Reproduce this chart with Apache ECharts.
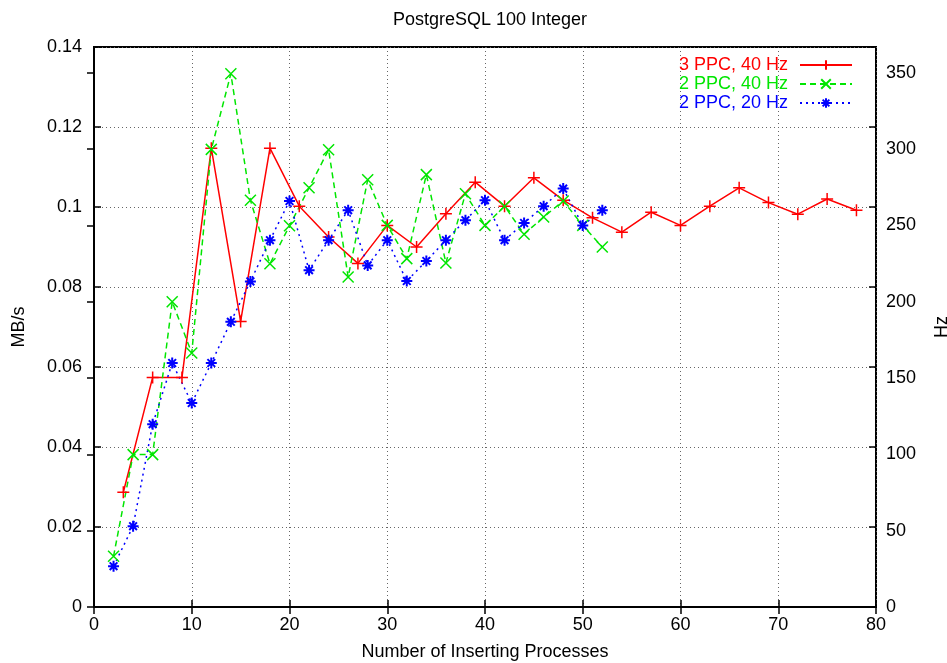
<!DOCTYPE html>
<html lang="en">
<head>
    <meta charset="UTF-8">
    <title>PostgreSQL 100 Integer</title>
    <script src="https://cdn.jsdelivr.net/npm/echarts@6/dist/echarts.min.js"></script>
    <style>
        html, body { margin: 0; padding: 0; background: #fff; }
        #main { width: 947px; height: 663px; }
    </style>
</head>
<body>
    <div id="main"></div>
    <script type="text/javascript">
        // 3 PPC, 40 Hz
        var redX = [3, 6, 9, 12, 15, 18, 21, 24, 27, 30, 33, 36, 39, 42, 45, 48, 51, 54, 57, 60, 63, 66, 69, 72, 75, 78];
        var redY = [0.0287, 0.0574, 0.0574, 0.1147, 0.0714, 0.1147, 0.1002, 0.0925, 0.0859, 0.0954, 0.0900, 0.0983, 0.1062,
            0.1002, 0.1073, 0.1017, 0.0973, 0.0937, 0.0987, 0.0954, 0.1002, 0.1048, 0.1011, 0.0982, 0.1020, 0.0992];
        // 2 PPC, 40 Hz
        var greenX = [2, 4, 6, 8, 10, 12, 14, 16, 18, 20, 22, 24, 26, 28, 30, 32, 34, 36, 38, 40, 42, 44, 46, 48, 50, 52];
        var greenY = [0.0127, 0.0381, 0.0381, 0.0763, 0.0635, 0.1144, 0.1333, 0.1017, 0.0858, 0.0953, 0.1048, 0.1143, 0.0825,
            0.1068, 0.0954, 0.0871, 0.1081, 0.0860, 0.1033, 0.0954, 0.1002, 0.0932, 0.0975, 0.1015, 0.0954, 0.0900];
        // 2 PPC, 20 Hz
        var blueX = [2, 4, 6, 8, 10, 12, 14, 16, 18, 20, 22, 24, 26, 28, 30, 32, 34, 36, 38, 40, 42, 44, 46, 48, 50, 52];
        var blueY = [0.0102, 0.0202, 0.0457, 0.0610, 0.0510, 0.0610, 0.0713, 0.0814, 0.0917, 0.1015, 0.0842, 0.0917, 0.0992,
            0.0854, 0.0917, 0.0815, 0.0865, 0.0917, 0.0967, 0.1017, 0.0917, 0.0960, 0.1002, 0.1046, 0.0954, 0.0992];

        var seriesNames = ['3 PPC, 40 Hz', '2 PPC, 40 Hz', '2 PPC, 20 Hz'];
        var seriesColors = ['#ff0000', '#00e600', '#0000ff'];

        function pairs(xs, ys) {
            return xs.map(function (x, i) { return [x, ys[i]]; });
        }

        var FONT = '"Liberation Sans", Arial, sans-serif';
        var gridLine = { show: true, lineStyle: { color: '#666', type: [1, 3], width: 1 } };
        var tick = { show: true, inside: true, length: 7, lineStyle: { color: '#000', width: 1.5 } };
        var label = { color: '#000', fontSize: 18, fontFamily: FONT };

        var symPlus = 'path://M0,5L10,5M5,0L5,10';
        var symCross = 'path://M0,0L10,10M10,0L0,10';
        var symStar = 'path://M0,5L10,5M5,0L5,10M1.5,1.5L8.5,8.5M8.5,1.5L1.5,8.5';

        var myChart = echarts.init(document.getElementById('main'));
        var option = {
            animation: false,
            backgroundColor: '#fff',
            textStyle: { fontFamily: FONT },
            title: {
                text: 'PostgreSQL 100 Integer',
                left: 485,
                textAlign: 'center',
                top: 6,
                textStyle: { fontSize: 18, fontWeight: 'normal', color: '#000', fontFamily: FONT }
            },
            legend: {
                orient: 'vertical',
                right: 94,
                top: 56,
                padding: 0,
                align: 'right',
                itemWidth: 52,
                itemHeight: 12,
                itemGap: 1,
                textStyle: { fontSize: 18, fontFamily: FONT, lineHeight: 18, padding: [0, 7, 0, 0] },
                data: seriesNames.map(function (n, i) {
                    return { name: n, textStyle: { color: seriesColors[i] } };
                })
            },
            grid: {
                left: 94, right: 71, top: 47, bottom: 56,
                outerBoundsMode: 'none',
                containLabel: false,
                show: true, borderColor: '#000', borderWidth: 2
            },
            xAxis: [
                {
                    type: 'value', position: 'bottom', min: 0, max: 80, interval: 10,
                    name: 'Number of Inserting Processes', nameLocation: 'middle', nameGap: 36,
                    nameTextStyle: label,
                    axisLine: { show: true, lineStyle: { color: '#000', width: 2 } },
                    axisTick: tick,
                    axisLabel: Object.assign({ margin: 9 }, label),
                    splitLine: gridLine
                },
                {
                    type: 'value', position: 'top', min: 0, max: 80, interval: 10,
                    axisLine: { show: false }, axisTick: tick,
                    axisLabel: { show: false }, splitLine: { show: false }
                }
            ],
            yAxis: [
                {
                    type: 'value', position: 'left', min: 0, max: 0.14, interval: 0.02,
                    name: 'MB/s', nameLocation: 'middle', nameGap: 66, nameRotate: 90,
                    nameTextStyle: label,
                    axisLine: { show: true, lineStyle: { color: '#000', width: 2 } },
                    axisTick: tick,
                    axisLabel: Object.assign({ margin: 12 }, label),
                    splitLine: gridLine
                },
                {
                    type: 'value', position: 'right', min: 0, max: 367, interval: 50,
                    name: 'Hz', nameLocation: 'middle', nameGap: 57, nameRotate: 90,
                    nameTextStyle: label,
                    axisLine: { show: true, lineStyle: { color: '#000', width: 2 } },
                    axisTick: tick,
                    axisLabel: Object.assign({ margin: 10, showMaxLabel: false }, label),
                    splitLine: { show: false }
                },
                {
                    type: 'value', position: 'right', min: 0, max: 0.14, interval: 0.02,
                    axisLine: { show: false }, axisTick: tick,
                    axisLabel: { show: false }, splitLine: { show: false }
                }
            ],
            series: [
                {
                    name: seriesNames[0], type: 'line', data: pairs(redX, redY),
                    symbol: symPlus, symbolSize: 12,
                    itemStyle: { color: seriesColors[0], borderColor: seriesColors[0], borderWidth: 1.5 },
                    lineStyle: { color: seriesColors[0], width: 1.5, type: 'solid' }
                },
                {
                    name: seriesNames[1], type: 'line', data: pairs(greenX, greenY),
                    symbol: symCross, symbolSize: 11,
                    itemStyle: { color: seriesColors[1], borderColor: seriesColors[1], borderWidth: 1.5 },
                    lineStyle: { color: seriesColors[1], width: 1.5, type: [6, 4] }
                },
                {
                    name: seriesNames[2], type: 'line', data: pairs(blueX, blueY),
                    symbol: symStar, symbolSize: 11,
                    itemStyle: { color: seriesColors[2], borderColor: seriesColors[2], borderWidth: 2 },
                    lineStyle: { color: seriesColors[2], width: 1.5, type: [2, 4] }
                }
            ]
        };
        myChart.setOption(option);
    </script>
</body>
</html>
